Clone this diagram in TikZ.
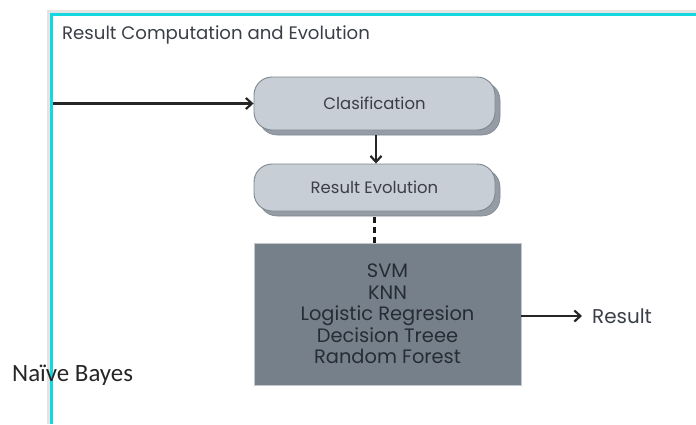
\documentclass[tikz,border=0pt]{standalone}
\usepackage{fontspec}
\setmainfont{Poppins}
\newfontfamily\calib{Carlito}
\usetikzlibrary{arrows.meta,shadows}

\definecolor{framecyan}{HTML}{14D8E0}
\definecolor{framegray}{HTML}{E4E4E4}
\definecolor{boxfill}{HTML}{C8CED6}
\definecolor{boxedge}{HTML}{7E868F}
\definecolor{boxshade}{HTML}{959CA5}
\definecolor{algofill}{HTML}{76808A}
\definecolor{algoedge}{HTML}{C4C8CC}
\definecolor{inktext}{HTML}{3A3F47}
\definecolor{algotext}{HTML}{262C34}

\tikzset{
  stepbox/.style={draw=boxedge, fill=boxfill, line width=0.9bp,
    rounded corners=18bp, minimum width=241bp, inner sep=0pt,
    text=inktext, font=\fontsize{16.5}{18}\selectfont,
    general shadow={shadow xshift=5bp, shadow yshift=-5bp,
      fill=boxshade, draw=boxedge, line width=0.6bp}},
  algobox/.style={draw=algoedge, fill=algofill, line width=0.8bp,
    minimum width=267bp, minimum height=142bp, inner sep=0pt,
    text=algotext, align=center, font=\fontsize{19.5}{21.5}\selectfont},
  arr/.style={-{Straight Barb[length=6bp,width=11bp,line width=2.2bp]},
    line width=2.4bp, black!85},
  lbl/.style={inner sep=0pt, anchor=west}
}

\begin{document}
\begin{tikzpicture}[x=1bp, y=-1bp]
  \useasboundingbox (0,0) rectangle (696,424);

  % outer frame of the section
  \draw[framegray, line width=3bp] (48.5,424) -- (48.5,11) -- (696,11);
  \draw[framecyan, line width=3bp] (51.5,424) -- (51.5,14.5) -- (696,14.5);

  \node[lbl, text=inktext, font=\fontsize{18.2}{20}\selectfont]
    (title) at (62,35) {Result Computation and Evolution};

  % process steps
  \node[stepbox, minimum height=53bp] (clas) at (374.5,103.5) {Clasification};
  \node[stepbox, minimum height=47bp] (eval) at (374.5,187.5) {Result Evolution};

  \node[algobox] (algo) at (387.5,314)
    {SVM\\KNN\\Logistic Regresion\\Decision Treee\\Random Forest};

  \node[lbl, text=inktext, font=\fontsize{20}{22}\selectfont]
    (result) at (592,316) {Result};

  \node[lbl, text=black!85, font=\calib\fontsize{25}{28}\selectfont]
    (naive) at (12,375) {Naïve Bayes};

  % connectors
  \coordinate (inlet) at (53,103.5);
  \coordinate (dashtop) at ([yshift=-6bp]eval.south);
  \draw[arr] (inlet) -- (clas.west);
  \draw[arr] ([xshift=1.5bp,yshift=-5bp]clas.south) -- ([xshift=1.5bp]eval.north);
  \draw[line width=2.6bp, black!90, dash pattern=on 6bp off 4bp]
    (dashtop) -- (dashtop |- algo.north);
  \draw[arr, shorten >=10bp] (algo.east |- result.west) -- (result.west);
\end{tikzpicture}
\end{document}
